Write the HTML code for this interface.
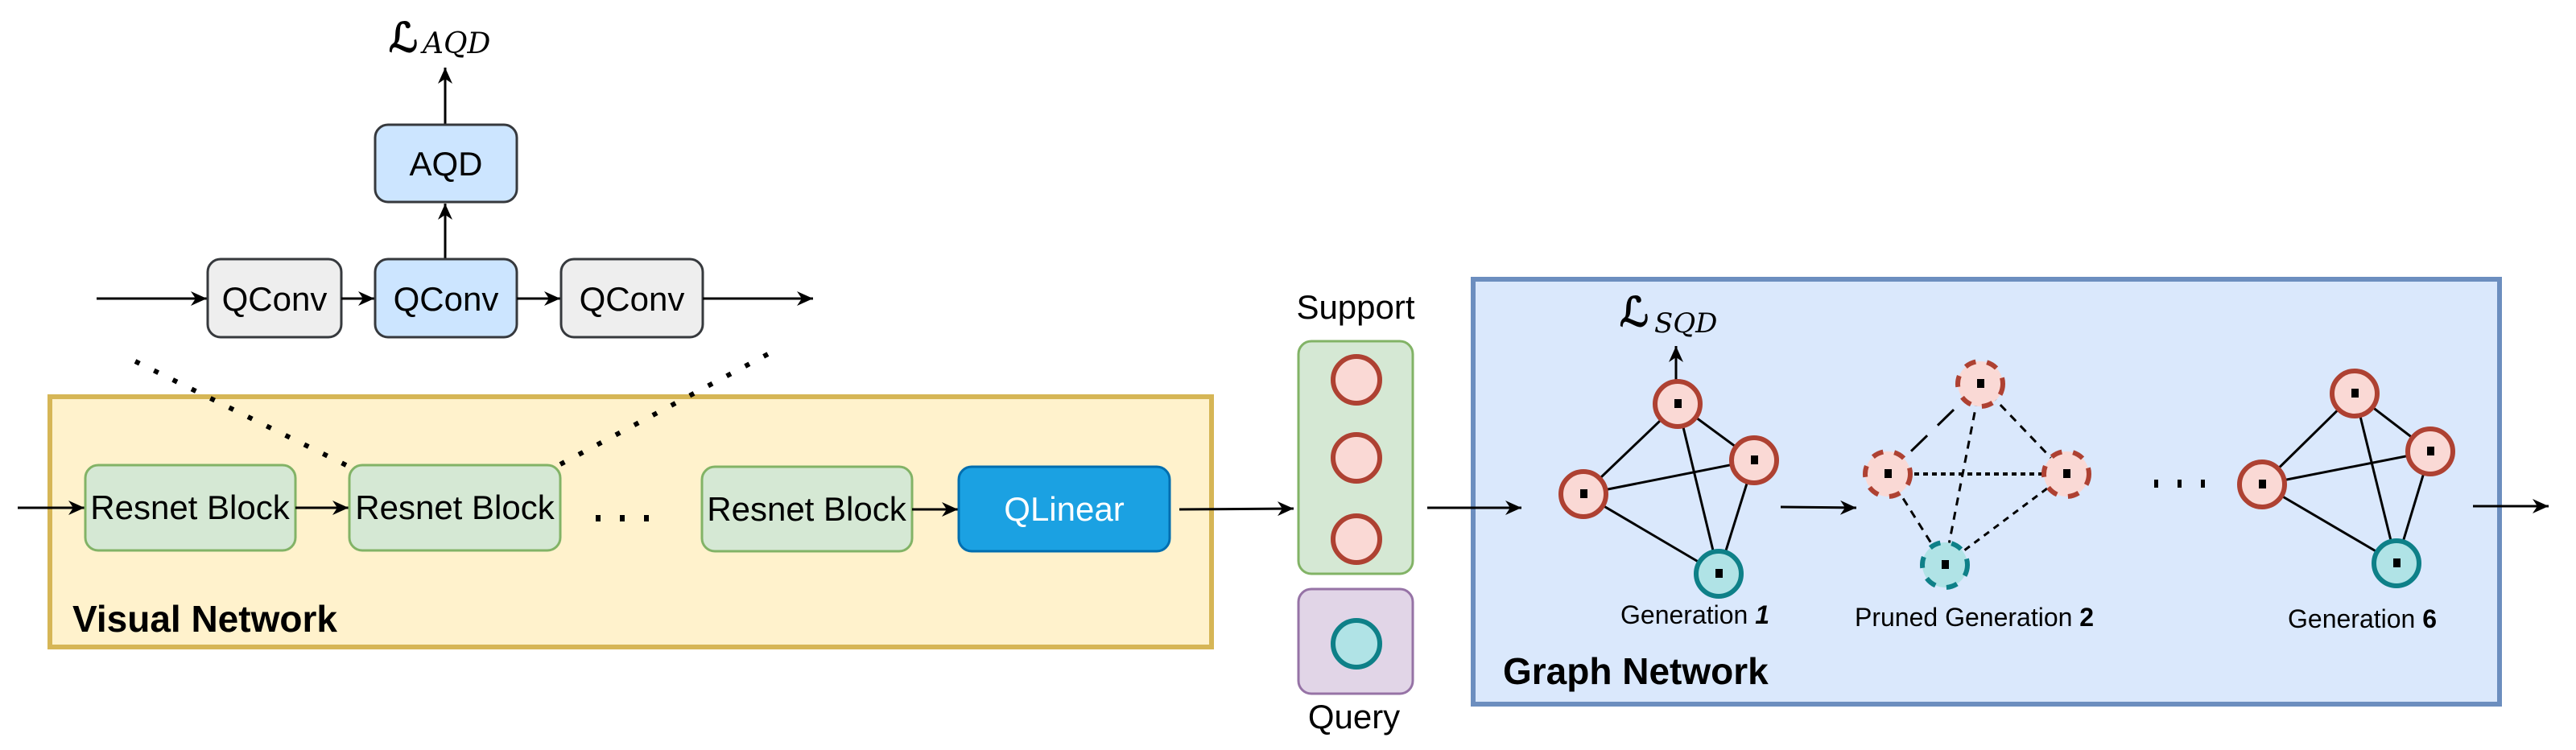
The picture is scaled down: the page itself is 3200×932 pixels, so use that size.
<!DOCTYPE html>
<html><head><meta charset="utf-8"><style>
html,body{margin:0;padding:0;background:#fff;}
svg{display:block;}
text{font-family:"Liberation Sans",sans-serif;}
.m{font-family:"DejaVu Serif","Liberation Serif",serif;font-style:italic;}
.L{font-family:"DejaVu Serif","Liberation Serif",serif;stroke:#000;stroke-width:1.6;}
</style></head><body>
<svg width="3200" height="932" viewBox="0 0 3200 932" xmlns="http://www.w3.org/2000/svg">
<defs>
<marker id="a" markerWidth="22" markerHeight="18" refX="20" refY="9" orient="auto" markerUnits="userSpaceOnUse">
<path d="M0,0 L20,9 L0,18 L6,9 Z" fill="#000"/>
</marker>
</defs>

<!-- top region -->
<text x="483" y="64" font-size="50" class="L">ℒ</text>
<text x="525" y="66" font-size="36" class="m">AQD</text>
<line x1="553" y1="154" x2="553" y2="84" stroke="#000" stroke-width="3" marker-end="url(#a)"/>
<rect x="466" y="155" width="176" height="96" rx="16" fill="#cce5ff" stroke="#36393d" stroke-width="3"/>
<text x="554" y="218" font-size="42" text-anchor="middle">AQD</text>
<line x1="553" y1="321" x2="553" y2="253" stroke="#000" stroke-width="3" marker-end="url(#a)"/>

<line x1="120" y1="371" x2="257" y2="371" stroke="#000" stroke-width="3" marker-end="url(#a)"/>
<rect x="258" y="322" width="166" height="97" rx="16" fill="#eeeeee" stroke="#36393d" stroke-width="3"/>
<text x="341" y="386" font-size="42" text-anchor="middle">QConv</text>
<line x1="424" y1="371" x2="465" y2="371" stroke="#000" stroke-width="3" marker-end="url(#a)"/>
<rect x="466" y="322" width="176" height="97" rx="16" fill="#cce5ff" stroke="#36393d" stroke-width="3"/>
<text x="554" y="386" font-size="42" text-anchor="middle">QConv</text>
<line x1="642" y1="371" x2="696" y2="371" stroke="#000" stroke-width="3" marker-end="url(#a)"/>
<rect x="697" y="322" width="176" height="97" rx="16" fill="#eeeeee" stroke="#36393d" stroke-width="3"/>
<text x="785" y="386" font-size="42" text-anchor="middle">QConv</text>
<line x1="873" y1="371" x2="1010" y2="371" stroke="#000" stroke-width="3" marker-end="url(#a)"/>

<!-- visual network -->
<rect x="62" y="493" width="1443" height="311" fill="#fff2cc" stroke="#d6b656" stroke-width="6"/>
<line x1="168" y1="449" x2="434" y2="580" stroke="#000" stroke-width="6" stroke-dasharray="6 20"/>
<line x1="696" y1="577" x2="954" y2="440" stroke="#000" stroke-width="6" stroke-dasharray="6 20"/>
<line x1="22" y1="631" x2="105" y2="631" stroke="#000" stroke-width="3" marker-end="url(#a)"/>
<rect x="106" y="578" width="261" height="106" rx="16" fill="#d5e8d4" stroke="#82b366" stroke-width="3"/>
<text x="236" y="645" font-size="42" text-anchor="middle">Resnet Block</text>
<line x1="367" y1="631" x2="433" y2="631" stroke="#000" stroke-width="3" marker-end="url(#a)"/>
<rect x="434" y="578" width="262" height="106" rx="16" fill="#d5e8d4" stroke="#82b366" stroke-width="3"/>
<text x="565" y="645" font-size="42" text-anchor="middle">Resnet Block</text>
<g fill="#000"><rect x="740" y="640" width="6" height="8"/><rect x="770" y="640" width="6" height="8"/><rect x="800" y="640" width="6" height="8"/></g>
<rect x="872" y="580" width="261" height="105" rx="16" fill="#d5e8d4" stroke="#82b366" stroke-width="3"/>
<text x="1002" y="647" font-size="42" text-anchor="middle">Resnet Block</text>
<line x1="1133" y1="633" x2="1190" y2="633" stroke="#000" stroke-width="3" marker-end="url(#a)"/>
<rect x="1191" y="580" width="262" height="105" rx="16" fill="#1ba1e2" stroke="#006eaf" stroke-width="3"/>
<text x="1322" y="647" font-size="42" text-anchor="middle" fill="#fff">QLinear</text>
<line x1="1465" y1="633" x2="1607" y2="632" stroke="#000" stroke-width="3" marker-end="url(#a)"/>
<text x="90" y="785" font-size="46" font-weight="bold">Visual Network</text>

<!-- support/query -->
<text x="1684" y="396" font-size="42" text-anchor="middle">Support</text>
<rect x="1613" y="424" width="142" height="289" rx="16" fill="#d5e8d4" stroke="#82b366" stroke-width="3"/>
<circle cx="1685" cy="472" r="29" fill="#fad9d5" stroke="#ae4132" stroke-width="6"/>
<circle cx="1685" cy="569" r="29" fill="#fad9d5" stroke="#ae4132" stroke-width="6"/>
<circle cx="1685" cy="670" r="29" fill="#fad9d5" stroke="#ae4132" stroke-width="6"/>
<rect x="1613" y="732" width="142" height="130" rx="16" fill="#e1d5e7" stroke="#9673a6" stroke-width="3"/>
<circle cx="1685" cy="800" r="29" fill="#b0e3e6" stroke="#0e8088" stroke-width="6"/>
<text x="1682" y="905" font-size="42" text-anchor="middle">Query</text>

<!-- graph network -->
<rect x="1830" y="347" width="1275" height="528" fill="#dae8fc" stroke="#6c8ebf" stroke-width="6"/>
<line x1="1773" y1="631" x2="1890" y2="631" stroke="#000" stroke-width="3" marker-end="url(#a)"/>

<!-- gen1 -->
<g stroke="#000" stroke-width="3">
<line x1="2084" y1="502" x2="1967" y2="614"/>
<line x1="2084" y1="502" x2="2179" y2="572"/>
<line x1="2084" y1="502" x2="2135" y2="713"/>
<line x1="1967" y1="614" x2="2179" y2="572"/>
<line x1="1967" y1="614" x2="2135" y2="713"/>
<line x1="2179" y1="572" x2="2135" y2="713"/>
</g>
<line x1="2082" y1="472" x2="2082" y2="430" stroke="#000" stroke-width="3" marker-end="url(#a)"/>
<text x="2012" y="405" font-size="50" class="L">ℒ</text>
<text x="2055" y="413" font-size="34" class="m">SQD</text>
<g stroke-width="6">
<circle cx="2084" cy="502" r="28" fill="#fad9d5" stroke="#ae4132"/>
<circle cx="2179" cy="572" r="28" fill="#fad9d5" stroke="#ae4132"/>
<circle cx="1967" cy="614" r="28" fill="#fad9d5" stroke="#ae4132"/>
<circle cx="2135" cy="713" r="28" fill="#b0e3e6" stroke="#0e8088"/>
</g>
<g fill="#000">
<rect x="2080" y="496" width="9" height="11"/><rect x="2175" y="566" width="9" height="11"/>
<rect x="1963" y="608" width="9" height="11"/><rect x="2131" y="707" width="9" height="11"/>
</g>
<text x="2013" y="775" font-size="32">Generation <tspan font-weight="bold" font-style="italic">1</tspan></text>

<line x1="2212" y1="630" x2="2306" y2="631" stroke="#000" stroke-width="3" marker-end="url(#a)"/>

<!-- gen2 -->
<g stroke="#000" stroke-width="3">
<line x1="2460" y1="477" x2="2345" y2="589" stroke-dasharray="28 18"/>
<line x1="2460" y1="477" x2="2567" y2="589" stroke-dasharray="10 8"/>
<line x1="2460" y1="477" x2="2416" y2="702" stroke-dasharray="10 8"/>
<line x1="2345" y1="589" x2="2567" y2="589" stroke-dasharray="6 5" stroke-width="4"/>
<line x1="2345" y1="589" x2="2416" y2="702" stroke-dasharray="10 8"/>
<line x1="2567" y1="589" x2="2416" y2="702" stroke-dasharray="8 7"/>
</g>
<g stroke-width="6" stroke-dasharray="14 14">
<circle cx="2460" cy="477" r="28" fill="#fad9d5" stroke="#ae4132"/>
<circle cx="2345" cy="589" r="28" fill="#fad9d5" stroke="#ae4132"/>
<circle cx="2567" cy="589" r="28" fill="#fad9d5" stroke="#ae4132"/>
<circle cx="2416" cy="702" r="28" fill="#b0e3e6" stroke="#0e8088"/>
</g>
<g fill="#000">
<rect x="2456" y="471" width="9" height="11"/><rect x="2341" y="583" width="9" height="11"/>
<rect x="2563" y="583" width="9" height="11"/><rect x="2412" y="696" width="9" height="11"/>
</g>
<text x="2304" y="778" font-size="32">Pruned Generation <tspan font-weight="bold">2</tspan></text>

<g fill="#000"><rect x="2676" y="596" width="5" height="10"/><rect x="2705" y="596" width="5" height="10"/><rect x="2734" y="596" width="5" height="10"/></g>

<!-- gen6 -->
<g stroke="#000" stroke-width="3">
<line x1="2925" y1="489" x2="2810" y2="602"/>
<line x1="2925" y1="489" x2="3019" y2="561"/>
<line x1="2925" y1="489" x2="2977" y2="700"/>
<line x1="2810" y1="602" x2="3019" y2="561"/>
<line x1="2810" y1="602" x2="2977" y2="700"/>
<line x1="3019" y1="561" x2="2977" y2="700"/>
</g>
<g stroke-width="6">
<circle cx="2925" cy="489" r="28" fill="#fad9d5" stroke="#ae4132"/>
<circle cx="3019" cy="561" r="28" fill="#fad9d5" stroke="#ae4132"/>
<circle cx="2810" cy="602" r="28" fill="#fad9d5" stroke="#ae4132"/>
<circle cx="2977" cy="700" r="28" fill="#b0e3e6" stroke="#0e8088"/>
</g>
<g fill="#000">
<rect x="2921" y="483" width="9" height="11"/><rect x="3015" y="555" width="9" height="11"/>
<rect x="2806" y="596" width="9" height="11"/><rect x="2973" y="694" width="9" height="11"/>
</g>
<text x="2842" y="780" font-size="32">Generation <tspan font-weight="bold">6</tspan></text>

<line x1="3072" y1="629" x2="3166" y2="629" stroke="#000" stroke-width="3" marker-end="url(#a)"/>

<text x="1867" y="850" font-size="46" font-weight="bold">Graph Network</text>
</svg>
</body></html>
